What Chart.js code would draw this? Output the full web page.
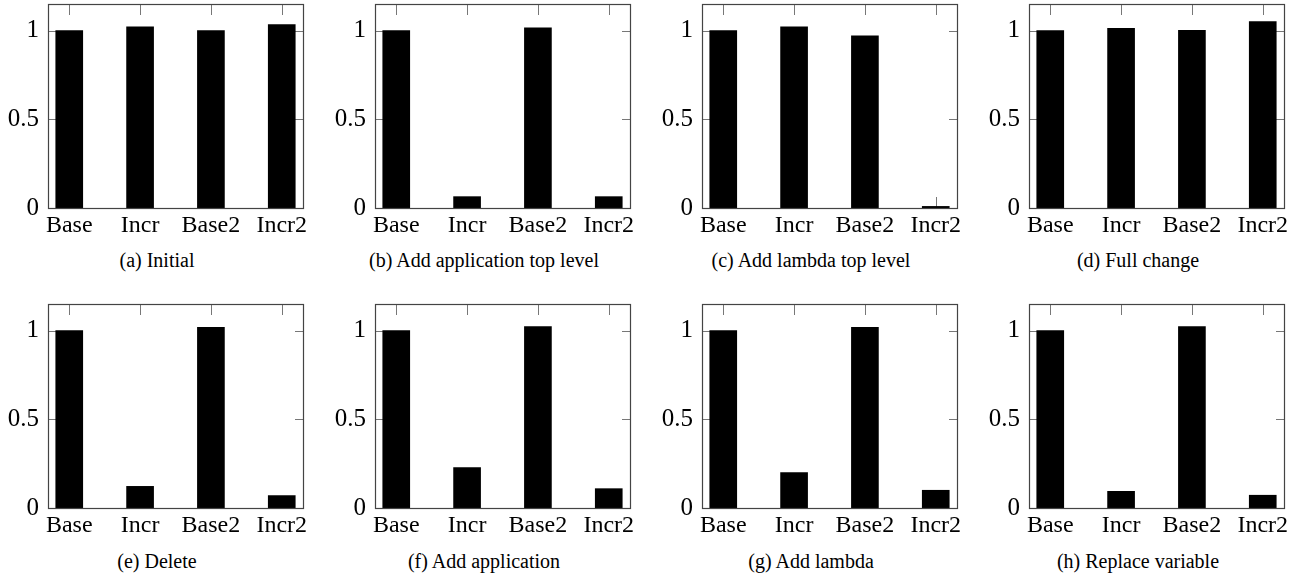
<!DOCTYPE html>
<html>
<head>
<meta charset="utf-8">
<script src="https://cdn.jsdelivr.net/npm/chart.js@4.4.1/dist/chart.umd.min.js"></script>
<style>
  body { margin: 0; background: #fff; }
  #wrap { position: relative; width: 1301px; height: 577px; overflow: hidden; }
  canvas { position: absolute; }
  .caption {
    position: absolute; width: 300px; text-align: center;
    font-family: "Liberation Serif", "Times New Roman", serif; font-size: 20px; line-height: 20px; color: #000;
  }
</style>
</head>
<body>
<div id="wrap"></div>
<script>
// --- datos ---
const categories = ['Base', 'Incr', 'Base2', 'Incr2'];
const yTickValues = [0, 0.5, 1];

const initial = [1.0, 1.022, 1.0, 1.034];
const addAppTop = [1.0, 0.064, 1.015, 0.064];
const addLambdaTop = [1.0, 1.022, 0.970, 0.009];
const fullChange = [1.0, 1.013, 1.002, 1.051];
const deleteVals = [1.0, 0.122, 1.019, 0.070];
const addApp = [1.0, 0.228, 1.023, 0.109];
const addLambda = [1.0, 0.200, 1.019, 0.100];
const replaceVar = [1.0, 0.094, 1.023, 0.072];

const captions = [
  '(a) Initial', '(b) Add application top level', '(c) Add lambda top level', '(d) Full change',
  '(e) Delete', '(f) Add application', '(g) Add lambda', '(h) Replace variable'
];
const panelValues = [initial, addAppTop, addLambdaTop, fullChange, deleteVals, addApp, addLambda, replaceVar];

const serif = "'Liberation Serif', 'Times New Roman', serif";

// --- marco y marcas interiores estilo pgfplots ---
const frameTicks = {
  id: 'frameTicks',
  beforeDatasetsDraw(chart) {
    const { ctx, chartArea: a, scales: { x, y } } = chart;
    ctx.save();
    ctx.strokeStyle = '#777';
    ctx.lineWidth = 1;
    ctx.beginPath();
    x.ticks.forEach(t => {
      const px = Math.round(x.getPixelForValue(t.value)) + 0.5;
      ctx.moveTo(px, a.top); ctx.lineTo(px, a.top + 11);
      ctx.moveTo(px, a.bottom); ctx.lineTo(px, a.bottom - 11);
    });
    y.ticks.forEach(t => {
      const py = Math.round(y.getPixelForValue(t.value)) + 0.5;
      ctx.moveTo(a.left, py); ctx.lineTo(a.left + 8, py);
      ctx.moveTo(a.right, py); ctx.lineTo(a.right - 8, py);
    });
    ctx.stroke();
    ctx.restore();
  },
  afterDatasetsDraw(chart) {
    const { ctx, chartArea: a } = chart;
    ctx.save();
    ctx.strokeStyle = '#444';
    ctx.lineWidth = 1.2;
    ctx.strokeRect(Math.round(a.left) + 0.5, Math.round(a.top) + 0.5,
      Math.round(a.right - a.left), Math.round(a.bottom - a.top));
    ctx.restore();
  }
};

const wrap = document.getElementById('wrap');

panelValues.forEach((vals, i) => {
  const col = i % 4;
  const row = Math.floor(i / 4);
  const left = col * 327;
  const top = row * 300;

  const canvas = document.createElement('canvas');
  canvas.width = 320;
  canvas.height = 240;
  canvas.style.left = left + 'px';
  canvas.style.top = top + 'px';
  wrap.appendChild(canvas);

  const cap = document.createElement('div');
  cap.className = 'caption';
  cap.textContent = captions[i];
  cap.style.left = (left + 157 - 150) + 'px';
  cap.style.top = (row === 0 ? 250 : 551) + 'px';
  wrap.appendChild(cap);

  new Chart(canvas.getContext('2d'), {
    type: 'bar',
    data: {
      datasets: [{
        data: vals.map((v, k) => ({ x: k, y: v })),
        backgroundColor: '#000',
        borderWidth: 0,
        barThickness: 27
      }]
    },
    options: {
      responsive: false,
      animation: false,
      layout: { padding: { top: 4, right: 17, left: 0, bottom: 0 } },
      plugins: { legend: { display: false }, tooltip: { enabled: false } },
      scales: {
        x: {
          type: 'linear',
          min: -0.3,
          max: 3.3,
          offset: false,
          afterBuildTicks: s => { s.ticks = categories.map((c, k) => ({ value: k })); },
          afterFit: s => { s.height = 32; s.paddingLeft = 0; s.paddingRight = 0; },
          grid: { display: false, drawTicks: false, offset: false },
          border: { display: false },
          ticks: {
            padding: 3,
            color: '#000',
            autoSkip: false,
            maxRotation: 0,
            minRotation: 0,
            font: { family: serif, size: 24 },
            callback: v => categories[v]
          }
        },
        y: {
          min: 0,
          max: 1.15,
          afterBuildTicks: s => { s.ticks = yTickValues.map(v => ({ value: v })); },
          afterFit: s => { s.width = 48; s.paddingTop = 0; s.paddingBottom = 0; },
          grid: { display: false, drawTicks: false },
          border: { display: false },
          ticks: {
            padding: 9,
            color: '#000',
            font: { family: serif, size: 25 },
            callback: v => String(v)
          }
        }
      }
    },
    plugins: [frameTicks]
  });
});
</script>
</body>
</html>
